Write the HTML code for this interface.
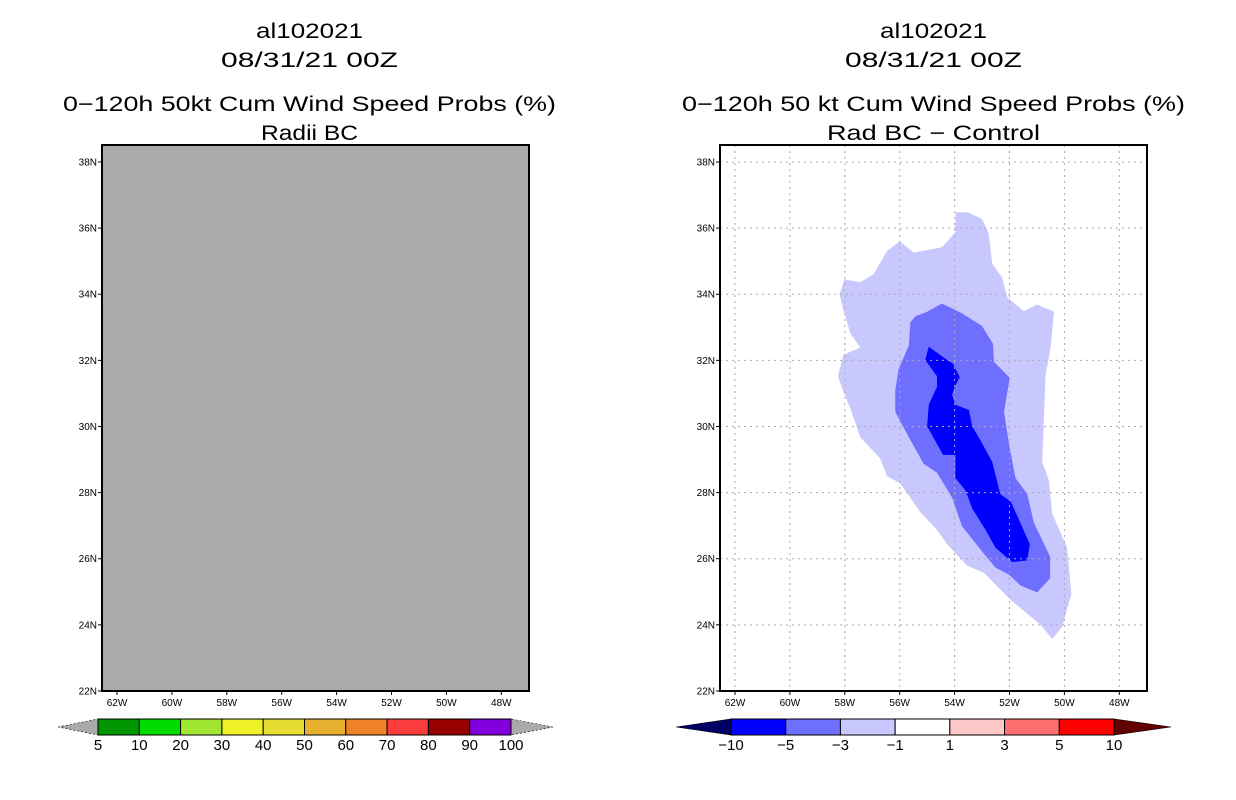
<!DOCTYPE html>
<html><head><meta charset="utf-8"><style>
body{margin:0;background:#fff;width:1236px;height:800px;overflow:hidden}
svg{display:block}
text{font-family:"Liberation Sans",sans-serif}
</style></head><body>
<svg id="s" width="1236" height="800"></svg>
<script>
const latTicks=[38,36,34,32,30,28,26,24,22];
const lonTicks=[62,60,58,56,54,52,50,48];
const leftBarLabels=["5","10","20","30","40","50","60","70","80","90","100"];
const leftBarColors=["#009600","#00dc00","#a0e632","#f0f028","#e6dc32","#e6af2d","#f08228","#fa3c3c","#960000","#8200dc"];
const rightBarLabels=["−10","−5","−3","−1","1","3","5","10"];
const rightBarColors=["#0000ff","#6e6eff","#c8c8ff","#ffffff","#ffc8c8","#ff6e6e","#ff0000"];
const outerLon=[-53.97,-53.53,-53.0,-52.76,-52.63,-52.27,-52.08,-51.48,-50.99,-50.38,-50.5,-50.69,-50.81,-50.57,-50.44,-49.9,-49.75,-50.08,-50.44,-50.87,-51.96,-52.94,-53.54,-54.27,-54.64,-55.25,-55.98,-56.46,-56.71,-57.44,-57.8,-58.07,-58.25,-58.05,-57.44,-57.8,-58.07,-58.19,-58.02,-57.44,-56.95,-56.46,-56.0,-55.49,-54.46,-53.97];
const outerLat=[36.48,36.48,36.28,35.85,34.93,34.5,33.91,33.49,33.69,33.47,32.4,31.52,28.93,28.38,27.36,26.33,24.92,23.95,23.57,24.0,24.76,25.58,25.79,26.44,26.87,27.41,28.28,28.49,29.03,29.68,30.55,31.09,31.52,32.17,32.39,32.82,33.58,33.99,34.45,34.36,34.61,35.31,35.6,35.26,35.42,35.88];
const midLon=[-54.46,-53.73,-53.0,-52.6,-52.57,-51.99,-52.2,-52.02,-51.78,-51.35,-51.11,-50.52,-50.52,-50.99,-51.6,-52.02,-52.51,-53.0,-53.73,-54.09,-54.64,-55.13,-55.67,-56.16,-56.16,-56.04,-55.67,-55.61,-55.43,-55.0];
const midLat=[33.72,33.42,33.04,32.5,31.96,31.47,30.44,29.47,28.44,27.95,27.09,26.06,25.41,24.98,25.19,25.52,25.73,26.22,26.98,27.85,28.6,28.87,29.68,30.44,31.09,31.74,32.44,33.15,33.33,33.47];
const innerLon=[-54.94,-54.46,-54.06,-53.81,-53.97,-54.09,-53.97,-53.48,-53.36,-53.06,-52.63,-52.33,-51.96,-51.66,-51.26,-51.35,-51.9,-52.51,-52.87,-53.36,-53.6,-53.97,-53.97,-54.42,-55.0,-54.94,-54.64,-54.64,-55.07];
const innerLat=[32.41,32.12,31.9,31.49,31.25,30.96,30.66,30.5,30.01,29.58,28.93,27.95,27.74,27.19,26.44,25.95,25.9,26.33,26.87,27.52,28.06,28.44,29.14,29.14,30.01,30.66,31.2,31.52,32.01];

const S=document.getElementById('s');const NS='http://www.w3.org/2000/svg';
function mk(t,a,p){const e=document.createElementNS(NS,t);for(const k in a)e.setAttribute(k,a[k]);(p||S).appendChild(e);return e;}
const Y=lat=>162+(38-lat)*33.06;
function X(off){return lon=>735+off+(62+lon)*27.45;}
function txt(x,y,s,size,anchor,name){const e=mk('text',{x:x,y:y,'font-size':size,'text-anchor':anchor||'middle',fill:'#000'});e.textContent=s;

return e;}

function panel(off,bg,titles,widths){
  const x0=720+off,x1=1147+off,xf=X(off);
  const cx=(x0+x1)/2+(off<0?-6:0);
  titles.forEach((t,i)=>{const e=txt(cx,[38,67,111,140][i],t,21,'middle','title-line-'+(i+1));
    e.setAttribute('textLength',widths[i]);e.setAttribute('lengthAdjust','spacingAndGlyphs');});
  const r=mk('rect',{x:x0,y:145,width:x1-x0,height:546,fill:bg});
  
  
  return {x0,x1,xf,cx};
}
function frame(p){
  const r=mk('rect',{x:p.x0,y:145,width:p.x1-p.x0,height:546,fill:'none',stroke:'#000','stroke-width':2});
  
  
  latTicks.forEach(l=>{mk('line',{x1:p.x0-4,x2:p.x0,y1:Y(l),y2:Y(l),stroke:'#000'});
    txt(p.x0-5,Y(l)+3.5,l+'N',10,'end','lat-tick-label');});
  lonTicks.forEach(l=>{mk('line',{x1:p.xf(-l),x2:p.xf(-l),y1:691,y2:695,stroke:'#000'});
    txt(p.xf(-l),706,l+'W',10,'middle','lon-tick-label');});
}
function grid(p){
  latTicks.forEach(l=>{if(l>22)mk('line',{x1:p.x0,x2:p.x1,y1:Y(l),y2:Y(l),stroke:'#aaa','stroke-dasharray':'2,4'});});
  lonTicks.forEach(l=>{mk('line',{x1:p.xf(-l),x2:p.xf(-l),y1:145,y2:691,stroke:'#aaa','stroke-dasharray':'2,4'});});
}
function poly(p,lons,lats,fill,name){
  const pts=lons.map((lo,i)=>p.xf(lo).toFixed(1)+','+Y(lats[i]).toFixed(1)).join(' ');
  const e=mk('polygon',{points:pts,fill:fill});
  
  
}
function colorbar(bx0,bx1,tipL,tipR,colors,labels,cl,cr){
  const w=(bx1-bx0)/colors.length;
  mk('polygon',{points:`${tipL},727 ${bx0},719 ${bx0},735`,fill:cl,stroke:'#000','stroke-width':0.6,'stroke-dasharray':cl=='#aaaaaa'?'2,2':''});
  mk('polygon',{points:`${tipR},727 ${bx1},719 ${bx1},735`,fill:cr,stroke:'#000','stroke-width':0.6,'stroke-dasharray':cr=='#aaaaaa'?'2,2':''});
  colors.forEach((c,i)=>{const r=mk('rect',{x:bx0+i*w,y:719,width:w,height:16,fill:c,stroke:'#000','stroke-width':1});
    
    });
  labels.forEach((s,i)=>txt(bx0+i*w,750,s,15,'middle','colorbar-label'));
}
const L=panel(-618,'#aaaaaa',['al102021','08/31/21 00Z','0−120h 50kt Cum Wind Speed Probs (%)','Radii BC'],[107,177,493,97]);
frame(L);
const R=panel(0,'#ffffff',['al102021','08/31/21 00Z','0−120h 50 kt Cum Wind Speed Probs (%)','Rad BC − Control'],[107,177,503,213]);
poly(R,outerLon,outerLat,'#c8c8ff','contour-minus1');
poly(R,midLon,midLat,'#6e6eff','contour-minus3');
poly(R,innerLon,innerLat,'#0000ff','contour-minus5');
grid(R);frame(R);
colorbar(98,511,58,553,leftBarColors,leftBarLabels,'#aaaaaa','#aaaaaa');
colorbar(731,1114,676,1171,rightBarColors,rightBarLabels,'#000064','#640000');
</script>
</body></html>
